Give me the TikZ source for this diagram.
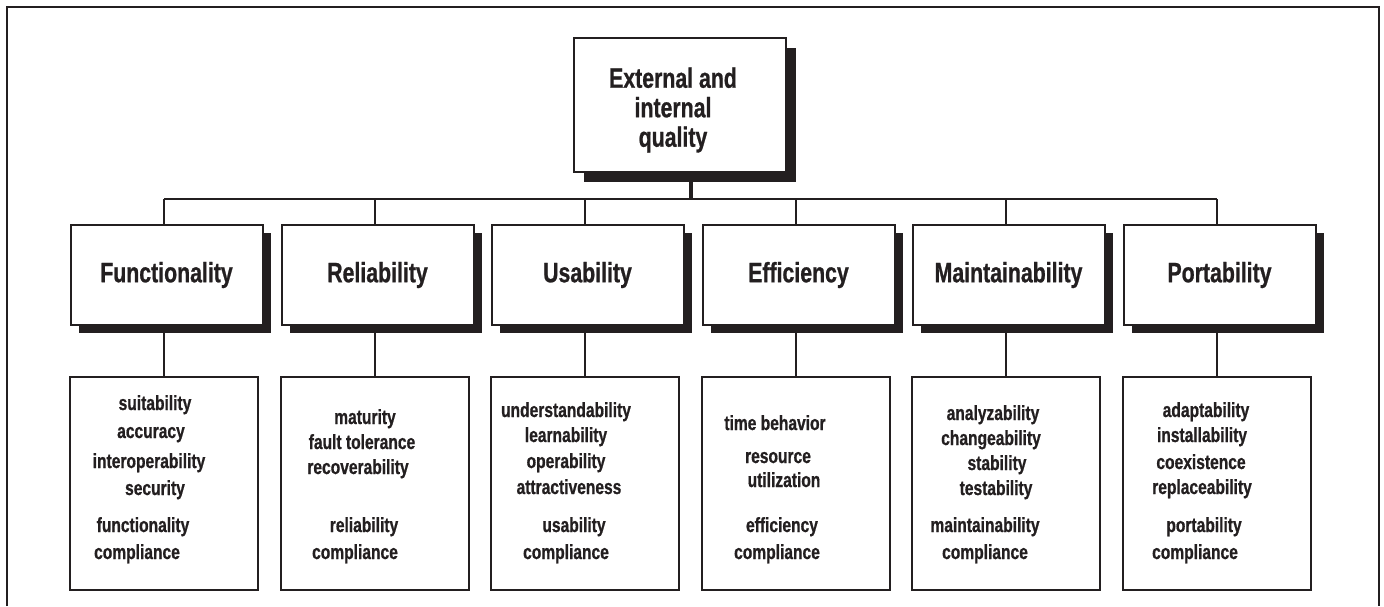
\documentclass[tikz,border=0pt]{standalone}
\usepackage{fontspec}
\setmainfont{Liberation Sans}[FakeStretch=0.76,BoldFeatures={FakeBold=0.8}]
\usepackage{xcolor}
\usepackage{tikz}
\usetikzlibrary{shadows}
\definecolor{ink}{HTML}{231F20}

\begin{document}
\begin{tikzpicture}[x=0.5pt,y=-0.5pt,color=ink,
	mainbox/.style={draw=ink,line width=1pt,fill=white,minimum width=106pt,minimum height=67pt,
		drop shadow={shadow xshift=5pt,shadow yshift=-5pt,opacity=1,fill=ink}},
	charbox/.style={draw=ink,line width=1pt,fill=white,minimum width=96pt,minimum height=50pt,
		inner sep=0pt,font=\fontsize{14}{16}\selectfont\bfseries,
		drop shadow={shadow xshift=4pt,shadow yshift=-4pt,opacity=1,fill=ink}},
	subbox/.style={draw=ink,line width=1pt,minimum width=94pt,minimum height=106.5pt},
	item/.style={anchor=base,inner sep=0pt,font=\fontsize{10.25}{12}\selectfont\bfseries},
	link/.style={draw=ink,line width=1.1pt}]
			\useasboundingbox (0,0) rectangle (1384,606);
			% frame
			\draw[line width=0.75pt] (7,606) -- (7,7) -- (1379,7) -- (1379,606);
			% top
			\node[mainbox] (quality) at (680,105) {};
			\node[align=center,font=\fontsize{14}{14.75}\selectfont\bfseries] (qlabel) at (673,110) {External and\\internal\\quality};
			\coordinate (bus) at (691,199);
			\draw[link,line width=1.6pt] (quality.south -| bus) -- (bus);
			% characteristics
			\foreach \n/\x/\t in {fun/164/Functionality,rel/375/Reliability,usa/585/Usability,
				eff/796/Efficiency,mai/1006/Maintainability,por/1217/Portability}
			{
			\node[charbox] (\n) at (\x+2.5,275) {\t};
			\node[subbox] (\n-sub) at (\x,483.5) {};
			\draw[link] (\n-sub.north |- bus) -- (\n-sub.north |- \n.north);
			\draw[link] (\n-sub.north |- \n.south) -- (\n-sub.north);
			}
			\draw[link] (fun-sub.north |- bus) -- (por-sub.north |- bus);
			% subcharacteristics
			\foreach \x/\y/\t [count=\k] in {155/410/suitability,151/438/accuracy,149/468/interoperability,
				155/495/security,143/532/functionality,137/559/compliance}
			\node[item] (fun\k) at (\x,\y) {\t};
			\foreach \x/\y/\t [count=\k] in {365/424/maturity,362/449/fault tolerance,358/474/recoverability,
				364/532/reliability,355/559/compliance}
			\node[item] (rel\k) at (\x,\y) {\t};
			\foreach \x/\y/\t [count=\k] in {566/417/understandability,566/442/learnability,566/468/operability,
				569/494/attractiveness,574/532/usability,566/559/compliance}
			\node[item] (usa\k) at (\x,\y) {\t};
			\foreach \x/\y/\t [count=\k] in {775/430/time behavior,778/463/resource,784/487/utilization,
				782/532/efficiency,777/559/compliance}
			\node[item] (eff\k) at (\x,\y) {\t};
			\foreach \x/\y/\t [count=\k] in {993/420/analyzability,991/445/changeability,997/470/stability,
				996/495/testability,985/532/maintainability,985/559/compliance}
			\node[item] (mai\k) at (\x,\y) {\t};
			\foreach \x/\y/\t [count=\k] in {1206/417/adaptability,1202/442/installability,1201/469/coexistence,
				1202/494/replaceability,1204/532/portability,1195/559/compliance}
			\node[item] (por\k) at (\x,\y) {\t};
		\end{tikzpicture}
\end{document}
